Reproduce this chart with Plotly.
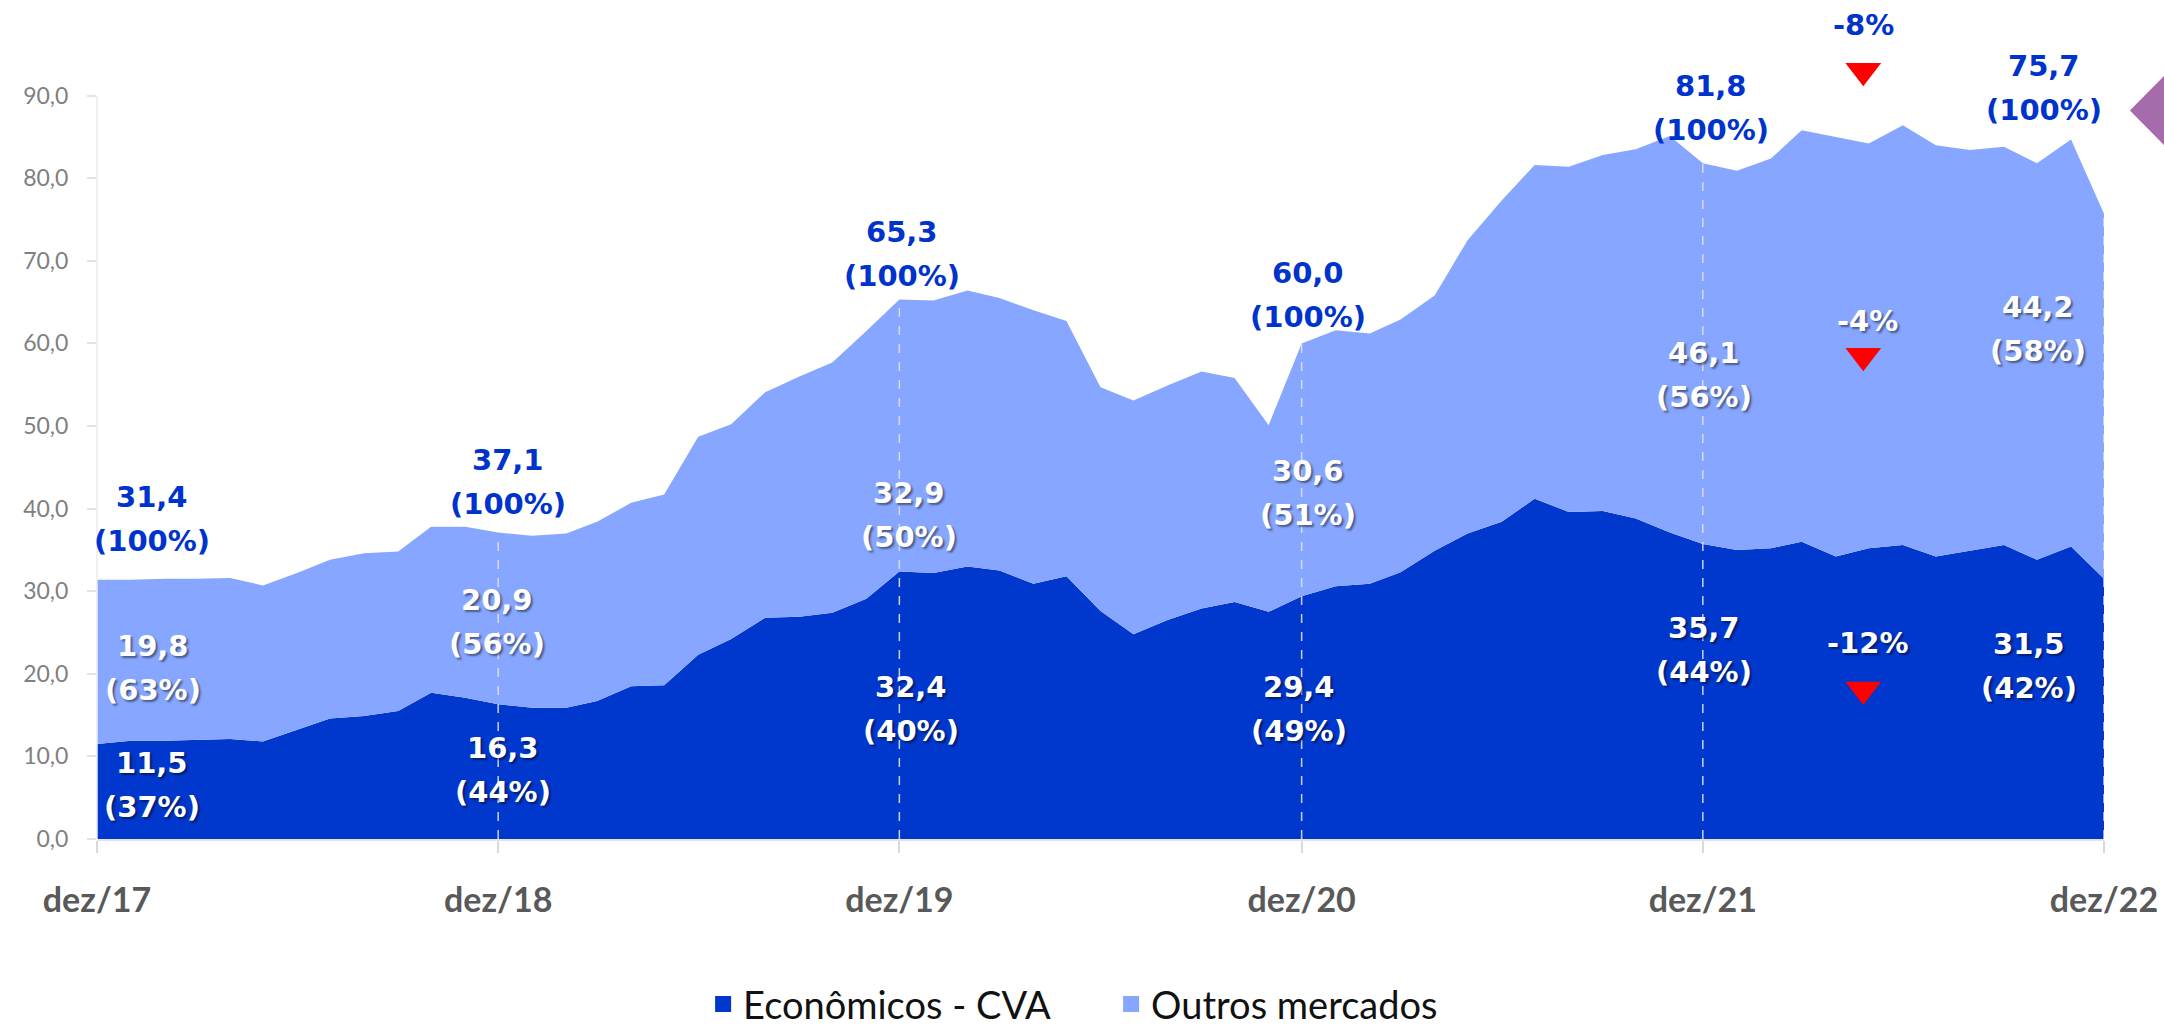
import pandas as pd
import plotly.graph_objects as go

# monthly series, dez/17 .. dez/22 (R$ bi)
MONTHS = pd.date_range("2017-12-01", periods=61, freq="MS")
TOTAL = [
    31.4, 31.4, 31.5, 31.5, 31.6, 30.7, 32.2, 33.8, 34.6, 34.8, 37.8, 37.8,
    37.1, 36.7, 37.0, 38.4, 40.7, 41.7, 48.7, 50.2, 54.1, 56.0, 57.7, 61.5,
    65.3, 65.2, 66.4, 65.5, 64.0, 62.7, 54.7, 53.1, 54.9, 56.6, 55.8, 50.1,
    60.0, 61.6, 61.2, 62.9, 65.8, 72.5, 77.3, 81.6, 81.4, 82.8, 83.5, 85.1,
    81.8, 80.9, 82.4, 85.8, 85.0, 84.2, 86.4, 84.0, 83.4, 83.8, 81.8, 84.7,
    75.7,
]
CVA = [
    11.5, 11.9, 11.9, 12.0, 12.1, 11.8, 13.2, 14.6, 14.9, 15.5, 17.7, 17.1,
    16.3, 15.9, 15.9, 16.7, 18.5, 18.6, 22.3, 24.2, 26.8, 26.9, 27.4, 29.1,
    32.4, 32.2, 33.0, 32.5, 30.9, 31.8, 27.6, 24.8, 26.5, 27.9, 28.7, 27.5,
    29.4, 30.6, 30.9, 32.3, 34.9, 37.0, 38.4, 41.2, 39.6, 39.7, 38.8, 37.1,
    35.7, 35.0, 35.2, 36.0, 34.2, 35.2, 35.6, 34.2, 34.9, 35.6, 33.8, 35.4,
    31.5,
]
OUTROS = [round(t - c, 1) for t, c in zip(TOTAL, CVA)]

# december labels
DEZ = ["2017-12-01", "2018-12-01", "2019-12-01", "2020-12-01", "2021-12-01", "2022-12-01"]
DEZ_TXT = ["dez/17", "dez/18", "dez/19", "dez/20", "dez/21", "dez/22"]
TOTAL_TXT = ["31,4", "37,1", "65,3", "60,0", "81,8", "75,7"]
TOTAL_PCT = ["(100%)"] * 6
OUTROS_TXT = ["19,8", "20,9", "32,9", "30,6", "46,1", "44,2"]
OUTROS_PCT = ["(63%)", "(56%)", "(50%)", "(51%)", "(56%)", "(58%)"]
CVA_TXT = ["11,5", "16,3", "32,4", "29,4", "35,7", "31,5"]
CVA_PCT = ["(37%)", "(44%)", "(40%)", "(49%)", "(44%)", "(42%)"]

# variation dez/21 -> dez/22
VAR_TXT = ["-8%", "-4%", "-12%"]

# label placement (layout only)
TOTAL_POS = [(38.75, 55), (43.2, 10), (70.85, 3), (65.85, 6), (88.45, 8), (90.9, -60)]
OUTROS_POS = [(20.75, 56), (26.25, -1), (39.2, 10), (41.85, 6), (56.15, 1), (61.8, -66)]
CVA_POS = [(6.5, 55), (8.3, 5), (15.7, 12), (15.75, -3), (22.85, 1), (21.0, -75)]
VAR_X = "2022-04-26"
VAR_TXT_Y = [98.6, 62.7, 23.7]
VAR_TRI_Y = [93.0, 58.5, 18.1]

DARK = "#0037CC"
LIGHT = "#86A6FF"
LABEL_BLUE = "#0033CC"
LBL_FONT = "DejaVu Sans"
SHADOW = "2px 2px 2px rgba(0,0,0,0.45)"

fig = go.Figure()

fig.add_trace(go.Scatter(
    x=MONTHS, y=CVA, name="Econômicos - CVA", stackgroup="a", mode="lines",
    line=dict(width=0, color=DARK), fillcolor=DARK, showlegend=False,
))
fig.add_trace(go.Scatter(
    x=MONTHS, y=OUTROS, name="Outros mercados", stackgroup="a", mode="lines",
    line=dict(width=0, color=LIGHT), fillcolor=LIGHT, showlegend=False,
))

# legend entries with square swatches
for name, col in (("Econômicos - CVA", DARK), ("Outros mercados", LIGHT)):
    fig.add_trace(go.Scatter(
        x=[None], y=[None], mode="markers", name=name,
        marker=dict(symbol="square", size=25, color=col),
    ))

# dashed guides at each december (except the first, which is the axis)
tot_by_date = dict(zip(MONTHS.strftime("%Y-%m-%d"), TOTAL))
for d in DEZ[1:]:
    fig.add_trace(go.Scatter(
        x=[d, d], y=[0, tot_by_date[d]], mode="lines", showlegend=False,
        line=dict(color="rgba(225,225,225,0.9)", width=1.5, dash="dash"),
        hoverinfo="skip",
    ))

# red down triangles
fig.add_trace(go.Scatter(
    x=[VAR_X] * 3, y=VAR_TRI_Y, mode="markers", showlegend=False, cliponaxis=False,
    marker=dict(symbol="triangle-down", size=31, color="#FF0000", line=dict(width=0)),
    hoverinfo="skip",
))

# y axis line only up to 90
fig.add_shape(type="line", xref="paper", yref="y", x0=0, x1=0, y0=0, y1=90,
              line=dict(color="#ebebeb", width=1.5), layer="above")

# purple diamond peeking in at the right edge
DX, DHW, DY, DHH = 1.0304, 0.0175, 88.2, 4.3
fig.add_shape(
    type="path", xref="paper", yref="y",
    path=f"M {DX - DHW},{DY} L {DX},{DY + DHH} L {DX + DHW},{DY} L {DX},{DY - DHH} Z",
    fillcolor="#A66BAA", line=dict(width=0),
)


def add_pair(d, top, bottom, pos, color, shadow=None):
    yc, xs = pos
    for txt, ys in ((top, 22), (bottom, -22)):
        font = dict(family=LBL_FONT, size=29, color=color, weight="bold")
        if shadow:
            font["shadow"] = shadow
        fig.add_annotation(
            x=d, y=yc, xshift=xs, yshift=ys, text=txt, showarrow=False,
            font=font, xanchor="center", yanchor="middle",
        )


for i, d in enumerate(DEZ):
    add_pair(d, TOTAL_TXT[i], TOTAL_PCT[i], TOTAL_POS[i], LABEL_BLUE)
    add_pair(d, OUTROS_TXT[i], OUTROS_PCT[i], OUTROS_POS[i], "white", SHADOW)
    add_pair(d, CVA_TXT[i], CVA_PCT[i], CVA_POS[i], "white", SHADOW)

for i, (txt, y) in enumerate(zip(VAR_TXT, VAR_TXT_Y)):
    font = dict(family=LBL_FONT, size=29, weight="bold",
                color=LABEL_BLUE if i == 0 else "white")
    if i > 0:
        font["shadow"] = SHADOW
    fig.add_annotation(x=VAR_X, y=y, xshift=4 if i else 0, text=txt, showarrow=False,
                       font=font, xanchor="center", yanchor="middle")

fig.update_layout(
    width=2164, height=1027,
    paper_bgcolor="white", plot_bgcolor="white",
    margin=dict(l=97, r=60, t=13, b=188, autoexpand=False),
    separators=",.",
    showlegend=True,
    legend=dict(
        orientation="h", x=0.302, xanchor="left", y=-0.2, yanchor="middle",
        font=dict(family="Lato", size=38, color="#111111"),
        traceorder="normal", itemwidth=30, entrywidth=363,
    ),
)

fig.update_xaxes(
    type="date", range=[DEZ[0], DEZ[-1]],
    tickvals=DEZ, ticktext=DEZ_TXT,
    showgrid=False, zeroline=False,
    showline=True, linecolor="#e3e3e3", linewidth=1.5,
    ticks="outside", ticklen=12, tickcolor="#d9d9d9", tickwidth=1.5,
    ticklabelstandoff=18,
    tickfont=dict(family="Lato", size=34, color="#595959", weight="bold"),
)
fig.update_yaxes(
    range=[0, 100], tickvals=list(range(0, 91, 10)), tickformat=".1f",
    showgrid=False, zeroline=False, showline=False,
    ticks="outside", ticklen=9, tickcolor="#e3e3e3", tickwidth=1.5,
    ticklabelstandoff=14,
    tickfont=dict(family="Lato", size=23, color="#808080"),
)

# page body has a default 8px margin; drop it so the figure fills the window
fig.write_html(
    "out.html",
    config={"displayModeBar": False},
    post_script="document.body.style.margin='0';",
)
